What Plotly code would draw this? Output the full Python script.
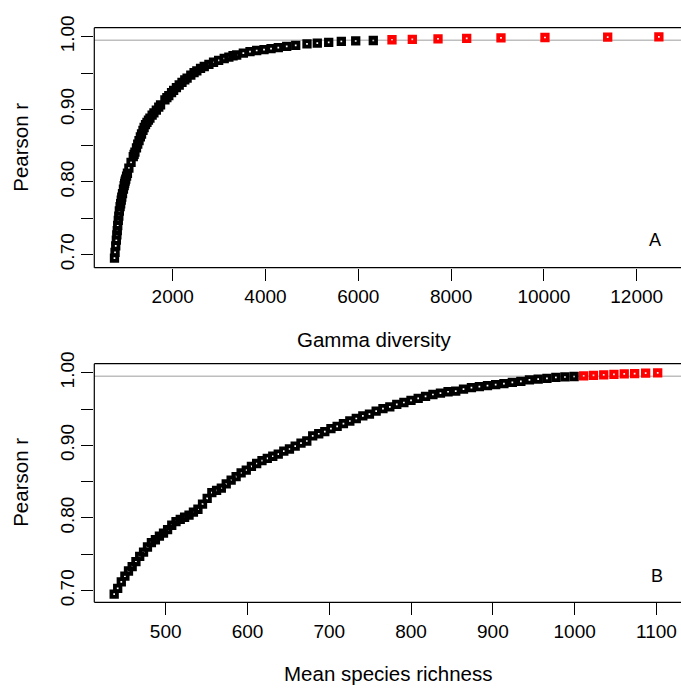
import plotly.graph_objects as go

# Simulation summaries: mean species richness, gamma diversity and the
# Pearson correlation obtained for each simulation (ordered by r).
richness = [
    437.0, 441.3, 445.7, 450.1, 454.5, 459.0, 463.6, 468.2, 472.9, 477.7,
    482.5, 487.4, 492.3, 497.3, 502.3, 507.4, 512.6, 517.8, 523.1, 528.5,
    533.9, 539.4, 545.0, 550.7, 556.4, 562.2, 568.0, 574.0, 580.0, 586.1,
    592.2, 598.5, 604.8, 611.2, 617.7, 624.2, 630.9, 637.6, 644.4, 651.3,
    658.3, 665.4, 672.5, 679.7, 687.1, 694.5, 702.0, 709.6, 717.3, 725.1,
    733.0, 741.0, 749.1, 757.3, 765.6, 774.0, 782.5, 791.2, 799.9, 808.7,
    817.7, 826.7, 835.9, 845.2, 854.6, 864.1, 873.8, 883.5, 893.4, 903.4,
    913.5, 923.8, 934.2, 944.7, 955.4, 966.1, 977.0, 988.1, 999.3,
    1011.0, 1023.0, 1035.5, 1048.0, 1060.6, 1073.3, 1086.8, 1101.5,
]

gamma = [
    745, 757, 772, 785, 796, 805, 815, 827, 838, 850,
    866, 878, 891, 902, 918, 938, 954, 964, 975, 988,
    1006, 1024, 1055, 1102, 1150, 1168, 1186, 1219, 1246, 1274,
    1303, 1328, 1359, 1384, 1414, 1445, 1477, 1509, 1556, 1595,
    1647, 1699, 1738, 1832, 1874, 1916, 1975, 2020, 2080, 2140,
    2200, 2260, 2310, 2390, 2460, 2520, 2600, 2680, 2780, 2880,
    2990, 3110, 3210, 3300, 3379, 3522, 3666, 3810, 3968, 4119,
    4276, 4457, 4651, 4894, 5116, 5362, 5634, 5944, 6323,
    6726, 7164, 7718, 8336, 9075, 10023, 11375, 12478,
]

pearson_r = [
    0.695, 0.703, 0.712, 0.720, 0.727, 0.733, 0.740, 0.747, 0.753, 0.760,
    0.766, 0.770, 0.775, 0.779, 0.784, 0.790, 0.795, 0.798, 0.801, 0.804,
    0.808, 0.812, 0.819, 0.827, 0.835, 0.838, 0.841, 0.847, 0.852, 0.857,
    0.862, 0.866, 0.871, 0.875, 0.879, 0.882, 0.885, 0.888, 0.892, 0.895,
    0.899, 0.903, 0.906, 0.913, 0.916, 0.919, 0.923, 0.926, 0.930, 0.9335,
    0.937, 0.9405, 0.943, 0.947, 0.9505, 0.953, 0.9565, 0.959, 0.962, 0.9648,
    0.9675, 0.970, 0.9718, 0.9738, 0.9748, 0.9774, 0.9795, 0.981, 0.9823, 0.9835,
    0.9851, 0.9868, 0.988, 0.9901, 0.9913, 0.9922, 0.9935, 0.9942, 0.9948,
    0.9958, 0.9964, 0.9971, 0.9978, 0.9984, 0.9989, 0.9994, 0.9999,
]

threshold = 0.995

gamma_ticks = [2000, 4000, 6000, 8000, 10000, 12000]
gamma_tick_text = ["2000", "4000", "6000", "8000", "10000", "12000"]
richness_ticks = [500, 600, 700, 800, 900, 1000, 1100]
richness_tick_text = ["500", "600", "700", "800", "900", "1000", "1100"]
r_ticks = [0.70, 0.75, 0.80, 0.85, 0.90, 0.95, 1.00]
r_tick_text = ["0.70", "", "0.80", "", "0.90", "", "1.00"]

W, H = 681, 690
FONT = "Liberation Sans, Arial, Helvetica, sans-serif"


def px(x):
    return x / W


def py(y):
    return 1 - y / H


colors = ["#ff0000" if r > threshold else "#000000" for r in pearson_r]
marker = dict(symbol="square-open", size=5.5, color=colors, line=dict(width=3.8))

fig = go.Figure()
fig.add_trace(go.Scatter(x=gamma, y=pearson_r, mode="markers", marker=marker,
                         xaxis="x", yaxis="y", showlegend=False, hoverinfo="skip"))
fig.add_trace(go.Scatter(x=richness, y=pearson_r, mode="markers", marker=marker,
                         xaxis="x2", yaxis="y2", showlegend=False, hoverinfo="skip"))

left = px(94.3)
tick_font = dict(size=19, color="black", family=FONT)
common_x = dict(
    domain=[left, 1], ticks="outside", ticklen=12, tickwidth=1, tickcolor="black",
    showline=False, showgrid=False, zeroline=False, tickfont=tick_font,
)
common_y = dict(
    ticks="outside", ticklen=12, tickwidth=1, tickcolor="black",
    showline=False, showgrid=False, zeroline=False,
    tickvals=r_ticks, ticktext=r_tick_text, tickangle=-90, tickfont=tick_font,
)

fig.update_layout(
    width=W, height=H, margin=dict(l=0, r=0, t=0, b=0),
    paper_bgcolor="white", plot_bgcolor="white",
    font=dict(family=FONT, color="black"),
    xaxis=dict(common_x, range=[310, 12955], tickvals=gamma_ticks,
               ticktext=gamma_tick_text, anchor="y"),
    yaxis=dict(common_y, domain=[py(261.7), py(16)], range=[0.682, 1.0125], anchor="x"),
    xaxis2=dict(common_x, range=[412.7, 1130], tickvals=richness_ticks,
                ticktext=richness_tick_text, anchor="y2"),
    yaxis2=dict(common_y, domain=[py(604.3), py(360)], range=[0.6839, 1.0125], anchor="x2"),
)

for xr, yr in (("x", "y"), ("x2", "y2")):
    xd, yd = xr + " domain", yr + " domain"
    # reference line at the threshold
    fig.add_shape(type="line", xref=xd, yref=yr, x0=0, x1=1, y0=threshold, y1=threshold,
                  line=dict(color="#bebebe", width=1.5), layer="below")
    # frame: bottom, top and left edges of the panel
    edge = dict(color="black", width=1.2)
    fig.add_shape(type="line", xref=xd, yref=yd, x0=0, x1=1.01, y0=0, y1=0, line=edge)
    fig.add_shape(type="line", xref=xd, yref=yd, x0=0, x1=1.01, y0=1, y1=1, line=edge)
    fig.add_shape(type="line", xref=xd, yref=yd, x0=0, x1=0, y0=0, y1=1, line=edge)


def label(text, x, y, size=20.5, angle=0):
    fig.add_annotation(text=text, x=px(x), y=py(y), xref="paper", yref="paper",
                       showarrow=False, xanchor="center", yanchor="middle",
                       textangle=angle, font=dict(size=size, color="black", family=FONT))


label("Pearson r", 21, 139, angle=-90)
label("Pearson r", 21, 482, angle=-90)
label("Gamma diversity", 374.5, 335)
label("Mean species richness", 388, 677)
label("A", 654.5, 233, size=18)
label("B", 657, 577, size=18)

fig.write_html("out.html")
